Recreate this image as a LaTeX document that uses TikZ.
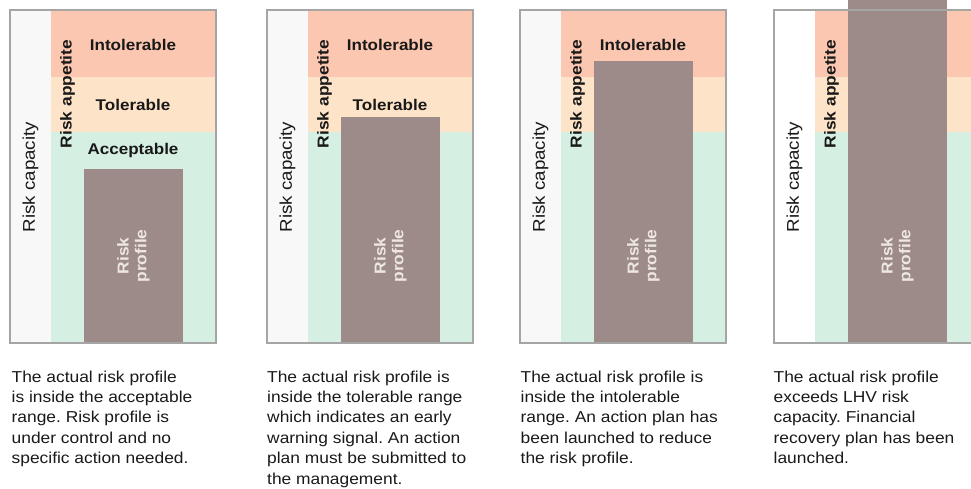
\documentclass[tikz,border=0pt]{standalone}
\usepackage{fontspec}
\setmainfont{Liberation Sans}[FakeStretch=1.1]
\frenchspacing

\definecolor{intolfill}{RGB}{252,199,176}
\definecolor{tolfill}{RGB}{253,228,200}
\definecolor{accfill}{RGB}{213,240,226}
\definecolor{capfill}{RGB}{248,248,248}
\definecolor{profilefill}{RGB}{157,139,137}
\definecolor{profiletext}{RGB}{238,231,225}
\definecolor{framegray}{RGB}{165,165,165}
\definecolor{inkblack}{RGB}{25,25,25}

\begin{document}
\begin{tikzpicture}[x=1pt, y=-1pt,
	zone/.style={inner sep=0pt, text=inkblack, font=\fontsize{15.5}{18}\selectfont\bfseries},
	sidelabel/.style={inner sep=0pt, rotate=90, text=inkblack},
	profilelabel/.style={inner sep=0pt, rotate=90, align=center, text=profiletext,
		font=\fontsize{15.8}{17.7}\selectfont\bfseries},
	caption/.style={inner sep=0pt, anchor=north west, align=left, text=inkblack,
		font=\fontsize{15.8}{20.4}\selectfont},
	frame/.style={draw=framegray, line width=1.1pt}]
	
	\useasboundingbox (0,0) rectangle (971,489);
	\clip (0,0) rectangle (971,489);
	
	% one panel per state: left edge / top of the risk profile bar / capacity strip
	\foreach \p/\px/\bartop/\capcol in {1/10/169/capfill, 2/267/117/capfill, 3/520/61/capfill, 4/774/-5/white} {
		% risk capacity strip and the three appetite bands
		\fill[\capcol] (\px,10) rectangle ++(41,333);
		\fill[intolfill] (\px+41,10) rectangle (\px+206,77);
		\fill[tolfill] (\px+41,77) rectangle (\px+206,132);
		\fill[accfill] (\px+41,132) rectangle (\px+206,343);
		
		% actual risk profile
		\fill[profilefill] (\px+74,\bartop) rectangle (\px+173,343);
		
		\node[sidelabel, font=\fontsize{17}{20}\selectfont] (cap\p) at (\px+20.5,177) {Risk capacity};
		\node[sidelabel, font=\fontsize{15.8}{18}\selectfont\bfseries] (app\p) at (\px+57.5,94) {Risk appetite};
		\node[profilelabel] (prof\p) at (\px+123.5,256) {Risk\\profile};
		
		\draw[frame] (\px,10) rectangle ++(206,333);
	}
	
	% band names, only where the bar leaves room
	\node[zone] (intol1) at (133,45) {Intolerable};
	\node[zone] (tol1) at (133,105) {Tolerable};
	\node[zone] (acc1) at (133,150) {Acceptable};
	\node[zone] (intol2) at (390,45) {Intolerable};
	\node[zone] (tol2) at (390,105) {Tolerable};
	\node[zone] (intol3) at (643,45) {Intolerable};
	
	% explanations under each panel
	\node[caption] (txt1) at (11.5,370.5) {The actual risk profile\\is inside the acceptable\\range. Risk profile is\\under control and no\\specific action needed.};
	\node[caption] (txt2) at (267,370.5) {The actual risk profile is\\inside the tolerable range\\which indicates an early\\warning signal. An action\\plan must be submitted to\\the management.};
	\node[caption] (txt3) at (520.5,370.5) {The actual risk profile is\\inside the intolerable\\range. An action plan has\\been launched to reduce\\the risk profile.};
	\node[caption] (txt4) at (773.5,370.5) {The actual risk profile\\exceeds LHV risk\\capacity. Financial\\recovery plan has been\\launched.};
	
\end{tikzpicture}
\end{document}
